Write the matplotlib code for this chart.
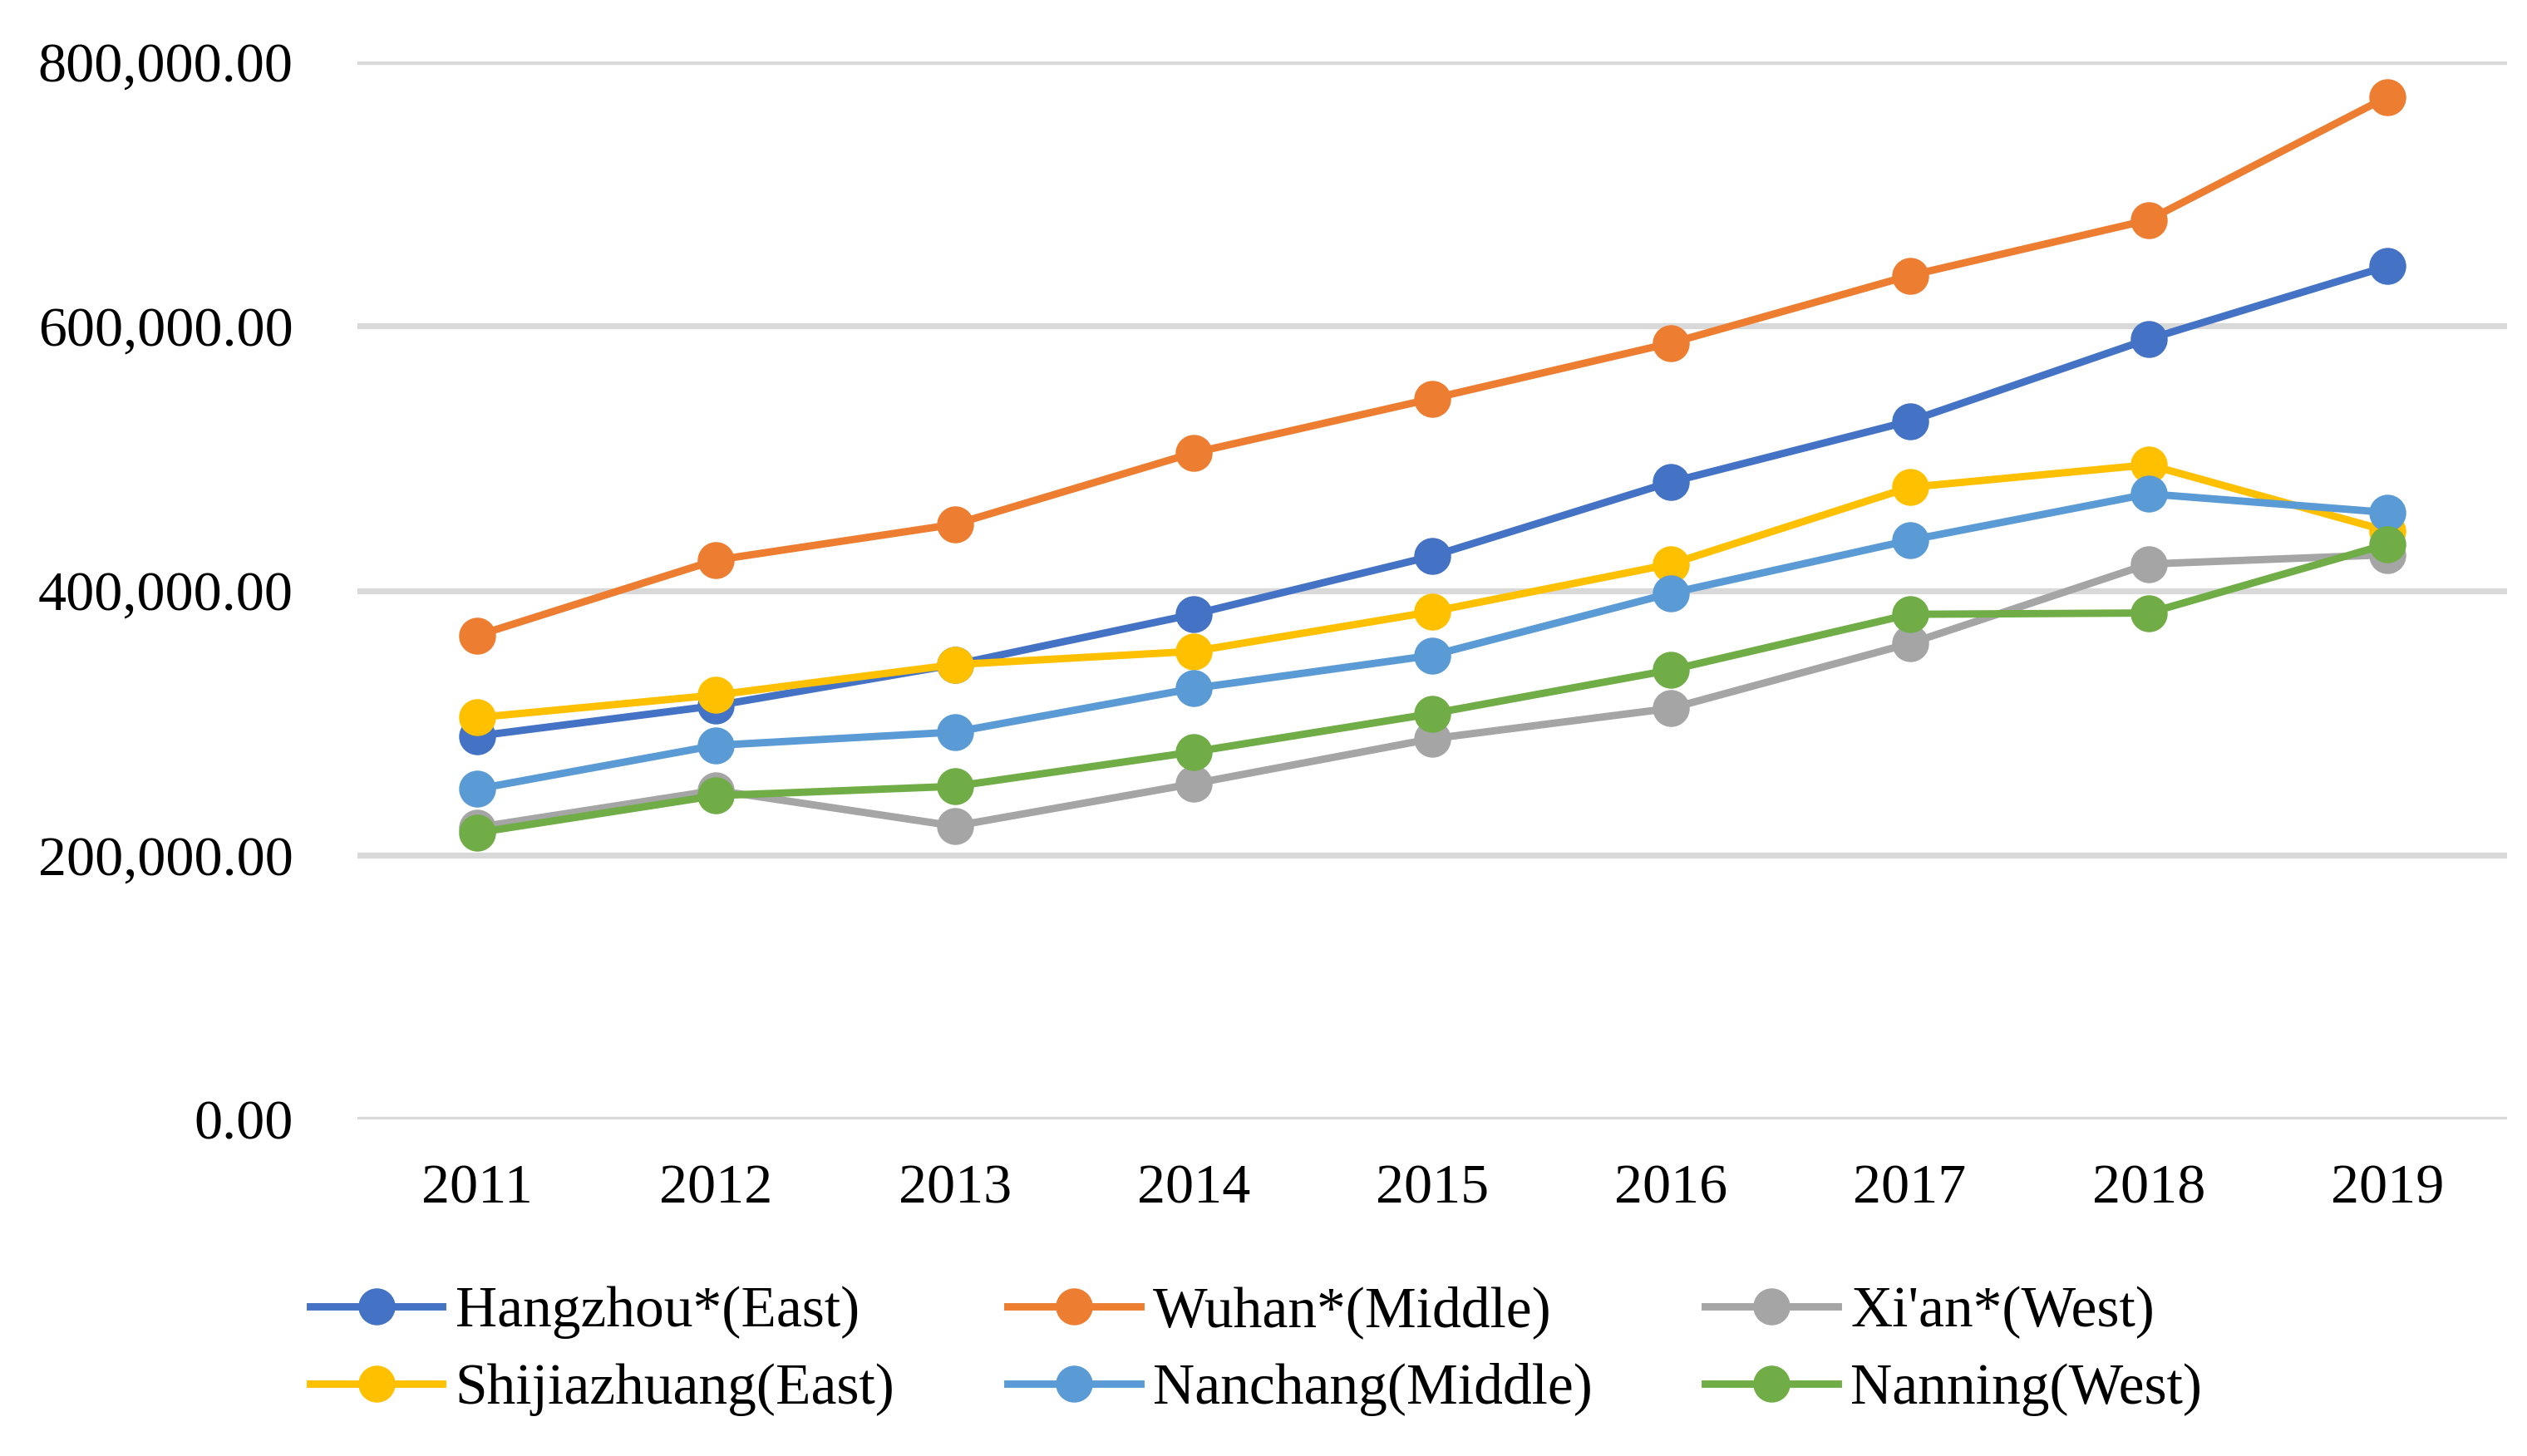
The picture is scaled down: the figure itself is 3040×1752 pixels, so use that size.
import matplotlib.pyplot as plt
from matplotlib.ticker import FuncFormatter

plt.rcParams["font.family"] = ["Liberation Serif", "DejaVu Serif"]

years = ["2011", "2012", "2013", "2014", "2015", "2016", "2017", "2018", "2019"]

hangzhou = [290000, 313000, 344000, 382000, 426000, 482000, 528000, 590000, 645000]
wuhan = [366000, 423000, 450000, 504000, 545000, 587000, 638000, 680000, 773000]
xian = [221000, 249000, 222000, 254000, 288000, 311000, 360000, 420000, 427000]
shijiazhuang = [304000, 321000, 344000, 354000, 384000, 420000, 478000, 495000, 445000]
nanchang = [250000, 283000, 293000, 326000, 351000, 398000, 438000, 473000, 459000]
nanning = [217000, 245000, 252000, 278000, 307000, 340000, 382000, 383000, 435000]

series = [
    ("Hangzhou*(East)", hangzhou, "#4472C4"),
    ("Wuhan*(Middle)", wuhan, "#ED7D31"),
    ("Xi'an*(West)", xian, "#A5A5A5"),
    ("Shijiazhuang(East)", shijiazhuang, "#FFC000"),
    ("Nanchang(Middle)", nanchang, "#5B9BD5"),
    ("Nanning(West)", nanning, "#70AD47"),
]

fig = plt.figure(figsize=(15.2, 8.76), dpi=200)
ax = fig.add_axes([0.1416, 0.2309, 0.8504, 0.7271])

x = list(range(len(years)))
handles = []
for label, vals, color in series:
    (h,) = ax.plot(x, vals, color=color, lw=3.2, marker="o", ms=15,
                   label=label, zorder=3)
    handles.append(h)

ax.set_xlim(-0.5, len(years) - 0.5)
ax.set_ylim(0, 800000)
ax.set_yticks([0, 200000, 400000, 600000, 800000])
ax.yaxis.set_major_formatter(FuncFormatter(lambda v, p: f"{v:,.2f}"))
ax.set_xticks(x)
ax.set_xticklabels(years)
ax.grid(axis="y", color="#D9D9D9", lw=2.6, zorder=0)
ax.set_axisbelow(True)
for s in ax.spines.values():
    s.set_visible(False)
ax.tick_params(axis="both", length=0, labelsize=24.5)
ax.tick_params(axis="y", pad=28)
ax.tick_params(axis="x", pad=19)

order = [0, 3, 1, 4, 2, 5]
fig.legend([handles[i] for i in order], [series[i][0] for i in order],
           loc="center", bbox_to_anchor=(0.497, 0.072), ncol=3, frameon=False,
           fontsize=25, handlelength=2.3, handletextpad=0.22,
           columnspacing=1.95, labelspacing=0.42, borderpad=0)

fig.savefig("out.png", dpi=200)
